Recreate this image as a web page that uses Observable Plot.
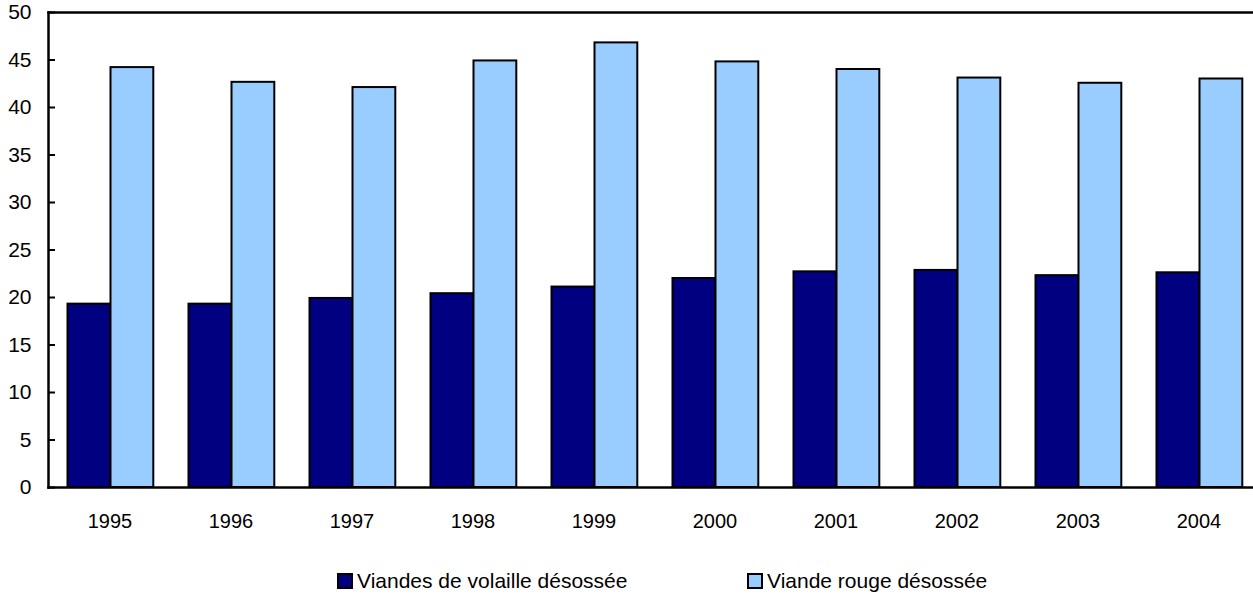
<!DOCTYPE html>
<html>
<head>
<meta charset="utf-8">
<script src="https://cdn.jsdelivr.net/npm/d3@7"></script>
<script src="https://cdn.jsdelivr.net/npm/@observablehq/plot@0.6"></script>
<style>
  html, body { margin: 0; padding: 0; background: #fff; overflow: hidden; width: 1253px; height: 596px; }
  #chart { width: 1253px; overflow: hidden; }
  #chart svg { display: block; max-width: none !important; width: 1260px; height: 560px; }
  #legend { position: relative; height: 36px; font-family: "Liberation Sans", Arial, sans-serif; font-size: 21px; color: #000; }
  .item { position: absolute; top: 9px; display: flex; align-items: center; white-space: nowrap; }
  .sw { width: 12px; height: 12px; border: 2px solid #000; margin-right: 4px; }
</style>
</head>
<body>
<div id="chart"></div>
<div id="legend"></div>
<script>
const years = ["1995", "1996", "1997", "1998", "1999", "2000", "2001", "2002", "2003", "2004"];
const seriesNames = ["Viandes de volaille désossée", "Viande rouge désossée"];
const volaille = [19.3, 19.3, 19.9, 20.4, 21.1, 22.0, 22.7, 22.85, 22.3, 22.6];
const rouge = [44.2, 42.65, 42.1, 44.9, 46.8, 44.8, 44.0, 43.1, 42.55, 43.0];
const yTicks = [0, 5, 10, 15, 20, 25, 30, 35, 40, 45, 50];
const colors = ["#000080", "#99CCFF"];

const data = [];
years.forEach((y, i) => {
  data.push({year: y, series: seriesNames[0], value: volaille[i]});
  data.push({year: y, series: seriesNames[1], value: rouge[i]});
});

const chart = Plot.plot({
  width: 1260,
  height: 560,
  marginLeft: 48,
  marginRight: 0,
  marginTop: 12,
  marginBottom: 73,
  style: {fontFamily: "Liberation Sans, Arial, sans-serif", fontSize: "20px", color: "#000", background: "#fff", maxWidth: "none"},
  x: {domain: years, paddingInner: 0, paddingOuter: 0, label: null},
  y: {domain: [0, 50], label: null},
  marks: [
    Plot.barY(data.filter(d => d.series === seriesNames[0]), {
      x: "year", y: "value", fill: colors[0], stroke: "#000", strokeWidth: 2,
      insetLeft: 18.5, insetRight: 59.7
    }),
    Plot.barY(data.filter(d => d.series === seriesNames[1]), {
      x: "year", y: "value", fill: colors[1], stroke: "#000", strokeWidth: 2,
      insetLeft: 61.5, insetRight: 16.7
    }),
    Plot.frame({anchor: "top", stroke: "#000", strokeWidth: 2.5}),
    Plot.frame({anchor: "bottom", stroke: "#000", strokeWidth: 2.5}),
    Plot.frame({anchor: "left", stroke: "#000", strokeWidth: 2.5}),
    Plot.axisY({ticks: yTicks, tickSize: -7, tickPadding: 24, strokeWidth: 2, fontSize: 21, tickFormat: d => String(d)}),
    Plot.axisX({tickSize: 0, tickPadding: 26})
  ]
});
document.getElementById("chart").appendChild(chart);

const legend = document.getElementById("legend");
const lefts = [337, 747];
seriesNames.forEach((name, i) => {
  const item = document.createElement("div");
  item.className = "item";
  item.style.left = lefts[i] + "px";
  const sw = document.createElement("span");
  sw.className = "sw";
  sw.style.background = colors[i];
  const label = document.createElement("span");
  label.textContent = name;
  item.appendChild(sw);
  item.appendChild(label);
  legend.appendChild(item);
});
</script>
</body>
</html>
